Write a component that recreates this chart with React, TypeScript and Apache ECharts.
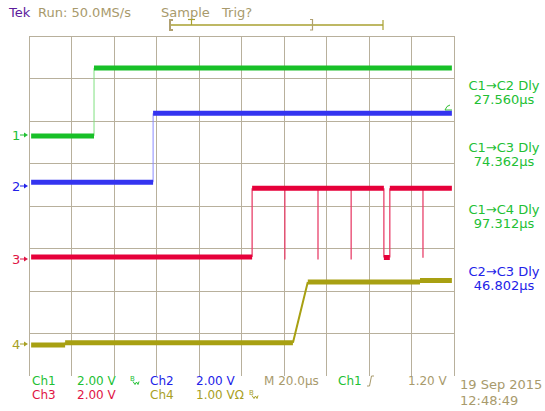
import React, { useEffect, useRef } from "react";
import * as echarts from "echarts";

// Traces, in screen divisions (x: 0..10, y: 0..8 from bottom)
const ch1X = [0.05, 1.53, 1.53, 9.95];
const ch1Y = [5.65, 5.65, 7.25, 7.25];
const ch2X = [0.05, 2.92, 2.92, 9.95];
const ch2Y = [4.56, 4.56, 6.18, 6.18];
const ch3X = [0.05, 5.25, 5.25, 6.02, 6.02, 6.02, 6.8, 6.8, 6.8, 7.58, 7.58, 7.58, 8.35, 8.35, 8.49, 8.49, 9.27, 9.27, 9.27, 9.95];
const ch3Y = [2.8, 2.8, 4.42, 4.42, 2.74, 4.42, 4.42, 2.74, 4.42, 4.42, 2.74, 4.42, 4.42, 2.79, 2.79, 4.42, 4.42, 2.78, 4.42, 4.42];
const ch4X = [0.05, 0.85, 0.85, 6.21, 6.56, 9.2, 9.2, 9.95];
const ch4Y = [0.73, 0.73, 0.78, 0.78, 2.21, 2.21, 2.25, 2.25];

const channelNames = ["1", "2", "3", "4"];
const channelColors = ["#18c028", "#3434f0", "#e6003a", "#a8a012"];
const edgeColors = ["#80e080", "#8c8cff", "#e8406a", "#a8a012"];
const textColors = ["#22c034", "#2222e8", "#e01444", "#a8a024"];
const markerY = [135, 186, 259, 344];

const delayLabels = ["C1\u2192C2 Dly", "C1\u2192C3 Dly", "C1\u2192C4 Dly", "C2\u2192C3 Dly"];
const delayValues = ["27.560\u00b5s", "74.362\u00b5s", "97.312\u00b5s", "46.802\u00b5s"];
const delayColorIdx = [0, 0, 0, 1];

const scaleLabels = ["2.00 V", "2.00 V", "2.00 V", "1.00 V\u03a9"];
const timeBase = "M 20.0\u00b5s";
const trigSource = "Ch1";
const trigLevel = "1.20 V";
const dateText = "19 Sep 2015";
const timeText = "12:48:49";

const TAN = "#a89a6c";
const GRID = "#b8b09c";
const FONT = "DejaVu Sans";

function splitSeries(xs: number[], ys: number[]) {
  const levels: any[] = [];
  const edges: any[] = [];
  for (let i = 0; i < xs.length - 1; i++) {
    const target = ys[i] === ys[i + 1] ? levels : edges;
    target.push([xs[i], ys[i]], [xs[i + 1], ys[i + 1]], ["-", "-"]);
  }
  return { levels, edges };
}

function txt(x: number, y: number, text: string, fill: string, align = "left", size = 13): any {
  return {
    type: "text",
    x,
    y,
    silent: true,
    style: { text, fill, font: `${size}px "${FONT}"`, textAlign: align, textVerticalAlign: "middle" },
  };
}

function bwIcon(x: number, y: number, color: string): any[] {
  return [
    txt(x, y - 2, "B", color, "left", 7),
    {
      type: "polyline",
      silent: true,
      shape: { points: [[x + 3, y + 1], [x + 5, y + 4], [x + 6.5, y + 1.5], [x + 8, y + 4], [x + 9, y + 1]] },
      style: { stroke: color, lineWidth: 1, fill: "none" },
    },
  ];
}

export default function App() {
  const ref = useRef<HTMLDivElement>(null);
  useEffect(() => {
    if (!ref.current) return;
    const chart = echarts.init(ref.current, undefined, { renderer: "svg" });
    const traces = [
      [ch1X, ch1Y],
      [ch2X, ch2Y],
      [ch3X, ch3Y],
      [ch4X, ch4Y],
    ];
    const series: any[] = [];
    traces.forEach(([xs, ys], i) => {
      const { levels, edges } = splitSeries(xs, ys);
      series.push({
        type: "line",
        data: edges,
        showSymbol: false,
        symbol: "none",
        connectNulls: false,
        silent: true,
        z: 3,
        lineStyle: { color: edgeColors[i], width: i === 3 ? 2 : i === 2 ? 1.3 : 1 },
      });
      series.push({
        type: "line",
        data: levels,
        showSymbol: false,
        symbol: "none",
        connectNulls: false,
        silent: true,
        z: 4,
        lineStyle: { color: channelColors[i], width: 5 },
      });
    });

    const graphics: any[] = [];
    // header
    graphics.push(txt(9, 12, "Tek", "#5c1c9c"));
    graphics.push(txt(38, 12, "Run: 50.0MS/s", TAN));
    graphics.push(txt(161, 12, "Sample", TAN));
    graphics.push(txt(222, 12, "Trig?", TAN));
    // trigger position bar
    graphics.push({ type: "line", silent: true, shape: { x1: 171, y1: 25, x2: 383, y2: 25 }, style: { stroke: "#a8a030", lineWidth: 1.3 } });
    graphics.push({ type: "polyline", silent: true, shape: { points: [[173, 20], [170, 20], [170, 30], [173, 30]] }, style: { stroke: "#b0a070", lineWidth: 2, fill: "none" } });
    graphics.push({ type: "polyline", silent: true, shape: { points: [[188, 19.5], [195, 19.5]] }, style: { stroke: "#a8a030", lineWidth: 1.2 } });
    graphics.push({ type: "line", silent: true, shape: { x1: 191.5, y1: 19.5, x2: 191.5, y2: 25 }, style: { stroke: "#a8a030", lineWidth: 1.2 } });
    graphics.push({ type: "polyline", silent: true, shape: { points: [[310, 19.5], [312.5, 19.5], [312.5, 30], [310, 30]] }, style: { stroke: "#b0a070", lineWidth: 1.2, fill: "none" } });
    graphics.push({ type: "line", silent: true, shape: { x1: 383, y1: 20, x2: 383, y2: 30 }, style: { stroke: "#a8a030", lineWidth: 1.2 } });

    // channel markers
    channelNames.forEach((n, i) => {
      graphics.push(txt(12, markerY[i], n, textColors[i], "left", 13));
      graphics.push({ type: "line", silent: true, shape: { x1: 20, y1: markerY[i], x2: 25, y2: markerY[i] }, style: { stroke: textColors[i], lineWidth: 1 } });
      graphics.push({ type: "polygon", silent: true, shape: { points: [[24, markerY[i] - 2.5], [28, markerY[i]], [24, markerY[i] + 2.5]] }, style: { fill: textColors[i] } });
    });

    // trigger level marker
    graphics.push({ type: "polyline", silent: true, shape: { points: [[452, 110], [445, 110], [447, 106.5], [450, 105]] }, style: { stroke: "#30c030", lineWidth: 1, fill: "none" } });

    // measurements
    delayLabels.forEach((l, i) => {
      const y0 = 85 + i * 62;
      const c = textColors[delayColorIdx[i]];
      graphics.push(txt(504, y0, l, c, "center"));
      graphics.push(txt(504, y0 + 14, delayValues[i], c, "center"));
    });

    // footer
    const r1 = 380.5;
    const r2 = 394.5;
    const fs = 12;
    graphics.push(txt(32, r1, "Ch1", textColors[0], "left", fs));
    graphics.push(txt(77, r1, scaleLabels[0], textColors[0], "left", fs));
    graphics.push(...bwIcon(130, r1, textColors[0]));
    graphics.push(txt(150, r1, "Ch2", textColors[1], "left", fs));
    graphics.push(txt(196, r1, scaleLabels[1], textColors[1], "left", fs));
    graphics.push(txt(264, r1, timeBase, TAN, "left", fs));
    graphics.push(txt(338, r1, trigSource, textColors[0], "left", fs));
    graphics.push({ type: "polyline", silent: true, shape: { points: [[367, 386], [369.5, 386], [371.5, 376], [374, 376]] }, style: { stroke: TAN, lineWidth: 1, fill: "none" } });
    graphics.push(txt(408, r1, trigLevel, TAN, "left", fs));
    graphics.push(txt(32, r2, "Ch3", textColors[2], "left", fs));
    graphics.push(txt(77, r2, scaleLabels[2], textColors[2], "left", fs));
    graphics.push(txt(150, r2, "Ch4", textColors[3], "left", fs));
    graphics.push(txt(196, r2, scaleLabels[3], textColors[3], "left", fs));
    graphics.push(...bwIcon(249, r2, textColors[3]));
    graphics.push(txt(460, 384, dateText, TAN));
    graphics.push(txt(460, 400, timeText, TAN));

    const hLineColors = ["rgba(0,0,0,0)", GRID, GRID, GRID, GRID, GRID, GRID, GRID, GRID];

    chart.setOption({
      animation: false,
      backgroundColor: "#ffffff",
      grid: { left: 29, right: 91, top: 36, bottom: 35 },
      xAxis: {
        type: "value",
        min: 0,
        max: 10,
        interval: 1,
        axisLine: { show: false },
        axisTick: { show: false },
        axisLabel: { show: false },
        splitLine: { show: true, lineStyle: { color: GRID, width: 1 } },
      },
      yAxis: {
        type: "value",
        min: 0,
        max: 8,
        interval: 1,
        axisLine: { show: false },
        axisTick: { show: false },
        axisLabel: { show: false },
        splitLine: { show: true, lineStyle: { color: hLineColors, width: 1 } },
      },
      series,
      graphic: graphics,
    });
    return () => chart.dispose();
  }, []);
  return <div ref={ref} style={{ position: "absolute", left: 0, top: 0, width: 545, height: 411 }} />;
}
